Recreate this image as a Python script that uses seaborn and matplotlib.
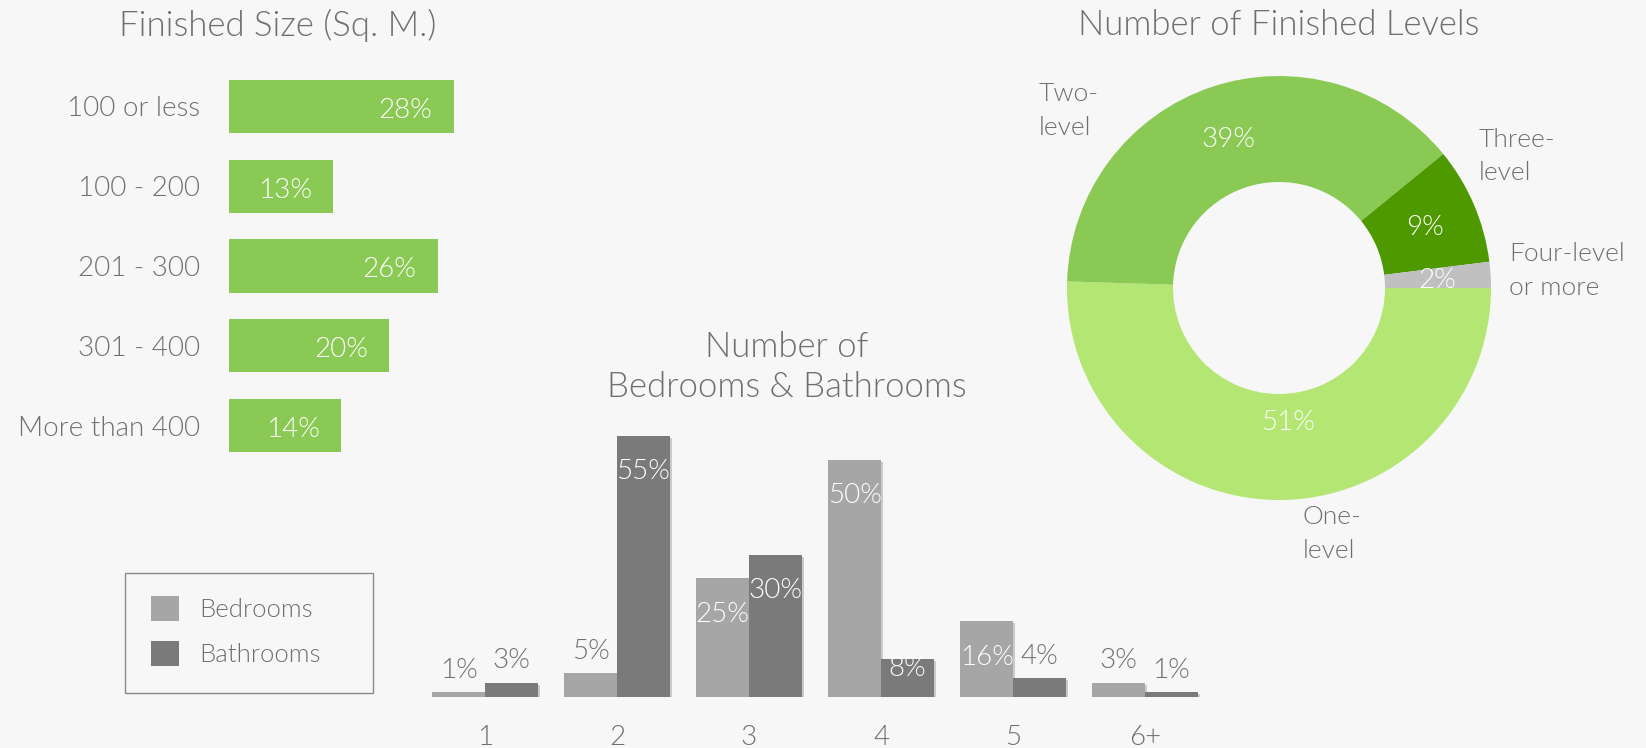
import matplotlib
matplotlib.use("Agg")
import numpy as np
import matplotlib.pyplot as plt
import matplotlib.patheffects as pe
from matplotlib.patches import Patch, Rectangle
import pandas as pd
import seaborn as sns

# ---- data -------------------------------------------------------------
size_labels = ["100 or less", "100 - 200", "201 - 300", "301 - 400", "More than 400"]
size_pct = [28, 13, 26, 20, 14]

room_counts = ["1", "2", "3", "4", "5", "6+"]
bedrooms_pct = [1, 5, 25, 50, 16, 3]
bathrooms_pct = [3, 55, 30, 8, 4, 1]
room_series = ["Bedrooms", "Bathrooms"]

level_labels = ["One-\nlevel", "Two-\nlevel", "Three-\nlevel", "Four-level\nor more"]
level_pct = [51, 39, 9, 2]

# ---- style ------------------------------------------------------------
BG = "#f7f7f7"
TEXT = "#6f6f6f"
GREEN = "#8bc955"
LEVEL_COLORS = ["#b4e673", "#8bc955", "#4e9800", "#c0c0c0"]
ROOM_COLORS = ["#a6a6a6", "#7a7a7a"]
W, H = 1646, 748
TITLE_FS = 25
LABEL_FS = 20

sns.set_theme(style="white", rc={"axes.facecolor": BG, "figure.facecolor": BG})
plt.rcParams["font.family"] = ["Lato", "DejaVu Sans"]
plt.rcParams["font.weight"] = 300
plt.rcParams["text.color"] = TEXT

fig = plt.figure(figsize=(W / 100, H / 100), dpi=100, facecolor=BG)


def px_axes(left, top, right, bottom):
    """Axes placed by pixel edges measured from the top-left corner."""
    return fig.add_axes([left / W, 1 - bottom / H, (right - left) / W, (bottom - top) / H])


def clean(ax):
    for s in ax.spines.values():
        s.set_visible(False)
    ax.set_xlabel("")
    ax.set_ylabel("")
    ax.patch.set_alpha(0)


# ---- finished size: horizontal bars ------------------------------------
ax1 = px_axes(229, 66.6, 229 + 30 * 8.02, 465.4)
size_df = pd.DataFrame({"size": size_labels, "pct": size_pct})
sns.barplot(data=size_df, x="pct", y="size", orient="h", color=GREEN,
            saturation=1, width=0.665, linewidth=0, ax=ax1)
ax1.set_xlim(0, 30)
ax1.set_ylim(4.5, -0.5)
clean(ax1)
ax1.set_xticks([])
ax1.tick_params(axis="y", length=0, pad=21, labelsize=LABEL_FS, labelcolor=TEXT)
for bar, v in zip(ax1.patches, size_pct):
    ax1.annotate(f"{v}%", (bar.get_width(), bar.get_y() + bar.get_height() / 2),
                 xytext=(-15.5, -1), textcoords="offset points",
                 ha="right", va="center_baseline", color="white", fontsize=LABEL_FS)
fig.text(278 / W, 1 - 25 / H, "Finished Size (Sq. M.)", ha="center", va="center",
         fontsize=TITLE_FS, color=TEXT)

# ---- bedrooms & bathrooms: grouped bars --------------------------------
ax2 = px_axes(419, 412, 1211, 697)
room_df = pd.DataFrame({
    "rooms": room_counts * 2,
    "pct": bedrooms_pct + bathrooms_pct,
    "kind": [room_series[0]] * len(room_counts) + [room_series[1]] * len(room_counts),
})
sns.barplot(data=room_df, x="rooms", y="pct", hue="kind", hue_order=room_series,
            palette=ROOM_COLORS, saturation=1, width=0.8, linewidth=0,
            legend=False, ax=ax2)
ax2.set_xlim(-0.5, 5.5)
ax2.set_ylim(0, 60)
clean(ax2)
ax2.set_yticks([])
ax2.tick_params(axis="x", length=0, pad=20, labelsize=LABEL_FS, labelcolor=TEXT)
shadow = [pe.SimplePatchShadow(offset=(1.5, -1.5), shadow_rgbFace="black", alpha=0.18),
          pe.Normal()]
for container, values in zip(ax2.containers, [bedrooms_pct, bathrooms_pct]):
    for bar, v in zip(container, values):
        bar.set_path_effects(shadow)
        cx = bar.get_x() + bar.get_width() / 2
        if v >= 8:
            ax2.text(cx, max(v - 7.6, 6.1), f"{v}%", ha="center", va="center",
                     color="white", fontsize=LABEL_FS)
        else:
            ax2.text(cx, v + 4.6, f"{v}%", ha="center", va="center",
                     color=TEXT, fontsize=LABEL_FS)
fig.text(787 / W, 1 - 367 / H, "Number of\nBedrooms & Bathrooms", ha="center",
         va="center", fontsize=TITLE_FS, color=TEXT, linespacing=1.28)

# legend with its own thin frame
fig.patches.append(Rectangle((125 / W, 1 - 693 / H), 248 / W, 120 / H,
                             transform=fig.transFigure, facecolor="none",
                             edgecolor="#8a8a8a", linewidth=1.0))
handles = [Patch(facecolor=c, edgecolor="none") for c in ROOM_COLORS]
fig.legend(handles, room_series, loc="upper left",
           bbox_to_anchor=(151 / W, 1 - 596 / H), frameon=False, borderpad=0,
           borderaxespad=0, fontsize=18.5, handlelength=1.09, handleheight=1.13,
           handletextpad=0.78, labelspacing=0.72, labelcolor=TEXT)

# ---- finished levels: donut -------------------------------------------
ax3 = px_axes(1279 - 212, 288 - 212, 1279 + 212, 288 + 212)
wedges, _ = ax3.pie(level_pct, colors=LEVEL_COLORS, startangle=0, counterclock=False,
                    radius=1, wedgeprops=dict(width=0.5, linewidth=0))
ax3.set_xlim(-1, 1)
ax3.set_ylim(-1, 1)
ax3.set_aspect("equal")
ax3.axis("off")

pct_nudge = {0: (0.054, 0.127)}
for i, (w, v) in enumerate(zip(wedges, level_pct)):
    mid = np.deg2rad((w.theta1 + w.theta2) / 2)
    dx, dy = pct_nudge.get(i, (0, 0))
    ax3.text(0.75 * np.cos(mid) + dx, 0.75 * np.sin(mid) + dy, f"{v}%",
             ha="center", va="center_baseline", color="white", fontsize=LABEL_FS)

level_label_xy = [(0.113, -1.160), (-1.132, 0.836), (0.943, 0.620), (1.085, 0.082)]
for (x, y), lab in zip(level_label_xy, level_labels):
    ax3.text(x, y, lab, ha="left", va="center", fontsize=19, color=TEXT,
             linespacing=1.52, clip_on=False)
fig.text(1279 / W, 1 - 25 / H, "Number of Finished Levels", ha="center",
         va="center", fontsize=TITLE_FS, color=TEXT)

fig.savefig("out.png", dpi=100, facecolor=BG)
